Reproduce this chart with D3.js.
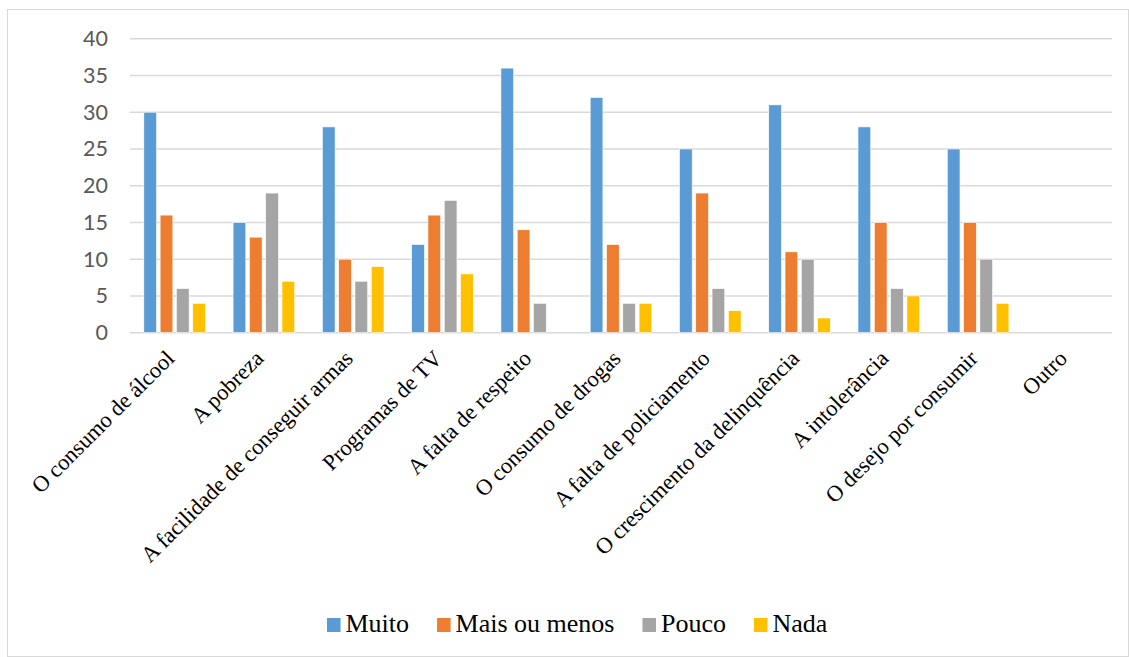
<!DOCTYPE html>
<html>
<head>
<meta charset="utf-8">
<script src="https://cdn.jsdelivr.net/npm/d3@7"></script>
<style>
  body { margin: 0; background: #fff; }
  svg { display: block; }
</style>
</head>
<body>
<svg width="1129" height="657"></svg>
<script>
// categories along the x axis
var categories = [
	"O consumo de álcool", "A pobreza", "A facilidade de conseguir armas",
	"Programas de TV", "A falta de respeito", "O consumo de drogas",
	"A falta de policiamento", "O crescimento da delinquência",
	"A intolerância", "O desejo por consumir", "Outro"
];

// series names (legend)
var seriesNames = ["Muito", "Mais ou menos", "Pouco", "Nada"];

// values per series, same order as categories
var muito = [30, 15, 28, 12, 36, 32, 25, 31, 28, 25, 0];
var maisOuMenos = [16, 13, 10, 16, 14, 12, 19, 11, 15, 15, 0];
var pouco = [6, 19, 7, 18, 4, 4, 6, 10, 6, 10, 0];
var nada = [4, 7, 9, 8, 0, 4, 3, 2, 5, 4, 0];

// y axis ticks
var yTicks = [0, 5, 10, 15, 20, 25, 30, 35, 40];

var colors = ["#5B9BD5", "#ED7D31", "#A5A5A5", "#FFC000"];
var seriesValues = [muito, maisOuMenos, pouco, nada];

var serif = "'Liberation Serif', 'Times New Roman', serif";

var svg = d3.select("svg");

// outer frame
svg.append("rect")
	.attr("x", 7.5).attr("y", 9.5)
	.attr("width", 1121).attr("height", 647)
	.attr("fill", "none")
	.attr("stroke", "#d9d9d9")
	.attr("stroke-width", 1);

var plot = { left: 130, right: 1112, top: 38.7, bottom: 332.7 };

var y = d3.scaleLinear().domain([0, 40]).range([plot.bottom, plot.top]);

var x0 = d3.scaleBand().domain(categories).range([plot.left, plot.right]).padding(0);
var groupW = 65.2;
var x1 = d3.scaleBand().domain(seriesNames)
	.range([0, groupW]).paddingInner(0.22).paddingOuter(0.11);

// gridlines
svg.append("g").selectAll("line")
	.data(yTicks)
	.join("line")
	.attr("x1", plot.left).attr("x2", plot.right)
	.attr("y1", function(d) { return y(d); })
	.attr("y2", function(d) { return y(d); })
	.attr("stroke", "#d9d9d9")
	.attr("stroke-width", 1.5);

// y axis labels
var yAxis = d3.axisLeft(y).tickValues(yTicks).tickSize(0).tickPadding(0);
var yg = svg.append("g")
	.attr("transform", "translate(" + 108 + ",0)")
	.call(yAxis);
yg.select(".domain").remove();
yg.selectAll("text")
	.attr("font-family", "Lato, 'Open Sans', sans-serif")
	.attr("font-size", 21.5)
	.attr("fill", "#595959");

// bars
var table = [];
categories.forEach(function(c, i) {
	seriesNames.forEach(function(s, j) {
		table.push({ cat: c, series: s, value: seriesValues[j][i], color: colors[j] });
	});
});

var offset = (x0.bandwidth() - groupW) / 2;

svg.append("g").selectAll("rect")
	.data(table.filter(function(d) { return d.value > 0; }))
	.join("rect")
	.attr("x", function(d) { return x0(d.cat) + offset + x1(d.series); })
	.attr("y", function(d) { return y(d.value); })
	.attr("width", x1.bandwidth())
	.attr("height", function(d) { return y(0) - y(d.value); })
	.attr("fill", function(d) { return d.color; })
	.attr("stroke", "#fff")
	.attr("stroke-width", 0.6);

// x axis labels, rotated
var xg = svg.append("g")
	.attr("transform", "translate(0," + plot.bottom + ")")
	.call(d3.axisBottom(x0).tickSize(0).tickPadding(0));
xg.select(".domain").remove();
xg.selectAll("text")
	.attr("font-family", serif)
	.attr("font-size", 22.5)
	.attr("fill", "#000")
	.attr("text-anchor", "end")
	.attr("y", 0)
	.attr("dy", null)
	.attr("transform", "translate(1,27) rotate(-45)");

// legend, laid out from the text widths
var legend = svg.append("g");
var lx = 327;
seriesNames.forEach(function(name, i) {
	legend.append("rect")
		.attr("x", lx).attr("y", 618)
		.attr("width", 13.5).attr("height", 14)
		.attr("fill", colors[i]);
	var t = legend.append("text")
		.attr("x", lx + 18.5).attr("y", 632)
		.attr("font-family", serif)
		.attr("font-size", 26)
		.attr("fill", "#000")
		.text(name);
	lx = lx + 18.5 + t.node().getComputedTextLength() + 28;
});
</script>
</body>
</html>
